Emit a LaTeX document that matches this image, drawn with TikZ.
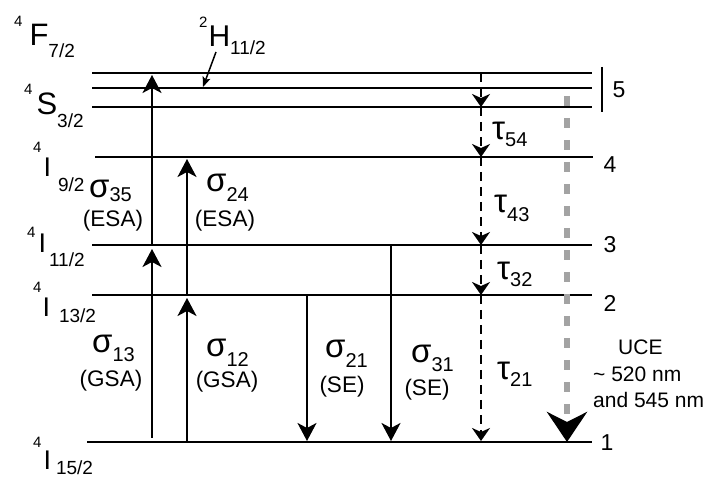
\documentclass[tikz,border=0pt]{standalone}
\usepackage{fontspec}
\setmainfont{Liberation Sans}
\usetikzlibrary{arrows.meta}
\newcommand{\fsz}[1]{\fontsize{#1}{#1}\selectfont}
\newcommand{\lvlab}[8]{{\fsz{15}\raisebox{#2}{#1}}\hspace{#3}{\fsz{#8}#4}\hspace{#5}{\fsz{19}\raisebox{-#7}{#6}}}
\newcommand{\grk}[3]{{\fsz{33}#1}{\fsz{20}\raisebox{-#3}{#2}}}
\tikzset{
 lvl/.style={line width=2pt},
 lbl/.style={inner sep=0pt, anchor=base west},
 par/.style={inner sep=0pt, font=\fsz{22.5}},
 num/.style={inner sep=0pt, font=\fsz{23}},
 up/.style={line width=2pt, -{Stealth[length=18pt,width=19pt,inset=5pt]}},
 dnd/.style={line width=2pt, dash pattern=on 9pt off 6pt, -{Stealth[length=13pt,width=18pt,inset=4pt]}},
 gry/.style={line width=6pt, color=black!36, dash pattern=on 10pt off 12pt, -{Stealth[length=30pt,width=40pt,inset=10pt,color=black]}},
 thin/.style={line width=1.5pt, -{Stealth[length=10pt,width=8pt,inset=2pt]}},
}
\begin{document}
\begin{tikzpicture}[x=1pt,y=-1pt]
\useasboundingbox (0,0) rectangle (716,478);
% energy levels
\draw[lvl] (92,73) -- (592,73);
\draw[lvl] (92,88) -- (592,88);
\draw[lvl] (92,107) -- (592,107);
\draw[lvl] (95,157) -- (593,157);
\draw[lvl] (92,245) -- (592,245);
\draw[lvl] (92,295) -- (592,295);
\draw[lvl] (87,442) -- (592,442);
\draw[line width=1.5pt] (602,67) -- (602,112);
% level labels
\node[lbl] (F72) at (14,46) {\lvlab{4}{19pt}{7pt}{F}{0pt}{7/2}{12pt}{31}};
\node[lbl] (H112) at (199,47) {\lvlab{2}{19pt}{1pt}{H}{0pt}{11/2}{8pt}{30}};
\node[lbl] (S32) at (24,115) {\lvlab{4}{20pt}{4pt}{S}{0pt}{3/2}{13pt}{31}};
\node[lbl] (I92) at (33,177) {\lvlab{4}{24pt}{2pt}{I}{7pt}{9/2}{15pt}{27}};
\node[lbl] (I112) at (27,253) {\lvlab{4}{15pt}{3pt}{I}{3pt}{11/2}{14pt}{27}};
\node[lbl] (I132) at (33,317) {\lvlab{4}{24pt}{1pt}{I}{9pt}{13/2}{6pt}{27}};
\node[lbl] (I152) at (33,470) {\lvlab{4}{22pt}{2pt}{I}{5pt}{15/2}{5pt}{27}};
% H pointer
\coordinate (hs) at (216,52);
\coordinate (he) at (203,87);
\draw[thin] (hs) -- (he);
% numbers
\node[num] (n5) at (619,90) {5};
\node[num] (n4) at (610,165) {4};
\node[num] (n3) at (610,245) {3};
\node[num] (n2) at (610,303) {2};
\node[num] (n1) at (607,443) {1};
% sigma labels
\node[lbl] (s35) at (89,198) {\grk{σ}{35}{4pt}};
\node[par] (e35) at (113,221) {(ESA)};
\node[lbl] (s24) at (206,192) {\grk{σ}{24}{10pt}};
\node[par] (e24) at (225,221) {(ESA)};
\node[lbl] (s13) at (92,353) {\grk{σ}{13}{9pt}};
\node[par] (g13) at (111,381) {(GSA)};
\node[lbl] (s12) at (206,357) {\grk{σ}{12}{10pt}};
\node[par] (g12) at (227,382) {(GSA)};
\node[lbl] (s21) at (325,358) {\grk{σ}{21}{10pt}};
\node[par] (e21) at (342,387) {(SE)};
\node[lbl] (s31) at (411,363) {\grk{σ}{31}{9pt}};
\node[par] (e31) at (427,390) {(SE)};
% tau labels
\node[lbl] (t54) at (492,140) {\grk{τ}{54}{7pt}};
\node[lbl] (t43) at (494,213) {\grk{τ}{43}{9pt}};
\node[lbl] (t32) at (497,280) {\grk{τ}{32}{7pt}};
\node[lbl] (t21) at (497,380) {\grk{τ}{21}{7pt}};
% UCE
\node[lbl,font=\fsz{21}] (u1) at (618,355) {UCE};
\node[lbl,font=\fsz{21}] (u2) at (593,382) {\textasciitilde\ 520 nm};
\node[lbl,font=\fsz{21}] (u3) at (593,408) {and 545 nm};
% arrow end points
\coordinate (a1s) at (152,438); \coordinate (a1e) at (152,249);
\coordinate (a2s) at (152,245); \coordinate (a2e) at (152,75);
\coordinate (a3s) at (187,442); \coordinate (a3e) at (187,298);
\coordinate (a4s) at (187,295); \coordinate (a4e) at (187,159);
\coordinate (d1s) at (307,295); \coordinate (d1e) at (307,441);
\coordinate (d2s) at (391,245); \coordinate (d2e) at (391,441);
\coordinate (k5) at (481,73);
\coordinate (k5b) at (481,107);
\coordinate (k4) at (481,157);
\coordinate (k3) at (481,245);
\coordinate (k2) at (481,295);
\coordinate (k1) at (481,441);
\coordinate (gs) at (567,96);
\coordinate (ge) at (567,442);
% arrows
\draw[up] (a1s) -- (a1e);
\draw[up] (a2s) -- (a2e);
\draw[up] (a3s) -- (a3e);
\draw[up] (a4s) -- (a4e);
\draw[up] (d1s) -- (d1e);
\draw[up] (d2s) -- (d2e);
\draw[dnd] (k5) -- (k5b);
\draw[dnd] (k5b) -- (k4);
\draw[dnd] (k4) -- (k3);
\draw[dnd] (k3) -- (k2);
\draw[dnd] (k2) -- (k1);
\draw[gry] (gs) -- (ge);
\end{tikzpicture}
\end{document}
